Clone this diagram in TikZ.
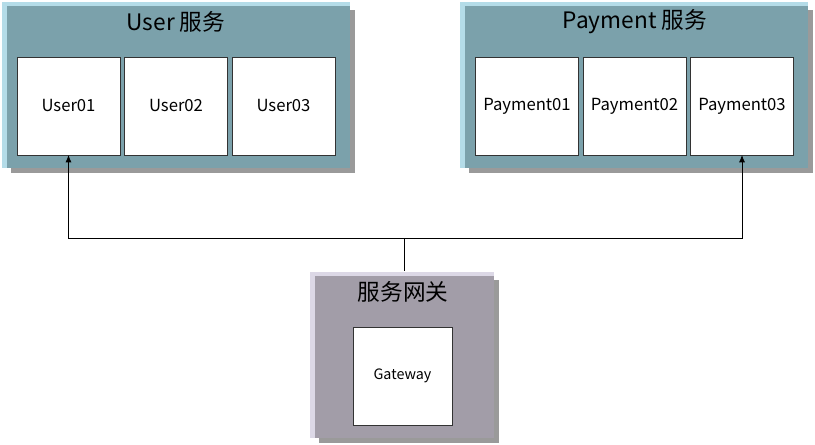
\documentclass[tikz,border=0pt]{standalone}
\usepackage{fontspec}
\setmainfont{Noto Sans CJK SC}
\usetikzlibrary{positioning,backgrounds,arrows.meta}
\definecolor{grpteal}{HTML}{7BA1AB}
\definecolor{grplight}{HTML}{B4DCE8}
\definecolor{grpmauve}{HTML}{A29DA8}
\definecolor{grplav}{HTML}{DCD8E6}
\definecolor{grpshade}{HTML}{9A9A9A}
\tikzstyle{grpbox} = [rectangle, inner sep=0pt, outer sep=0pt,
    minimum width=257.25pt, minimum height=121.5pt]
\tikzstyle{svcbox} = [draw=black!80, fill=white, line width=0.6pt,
    rectangle, inner sep=0pt, outer sep=0pt,
    minimum width=77.25pt, minimum height=73.5pt, font=\fontsize{12.5}{14}\selectfont]
\tikzstyle{grptitle} = [font=\fontsize{17}{19}\selectfont, inner sep=0pt]
\tikzstyle{conn} = [draw=black, line width=0.6pt, -{Latex[length=5.5pt,width=4.5pt]}]

\begin{document}
\begin{tikzpicture}[x=0.75pt, y=-0.75pt]
                \useasboundingbox (0,0) rectangle (815,445);
                \node[grpbox, fill=grpteal] (usergrp) at (178.5,87) {};
                \node[grpbox, fill=grpteal] (paygrp) at (636.5,87) {};
                \node[grpbox, fill=grpmauve, minimum width=134.25pt] (gwgrp) at (404.5,357) {};
                \begin{scope}[on background layer]
                    \foreach \grp/\col in {usergrp/grplight, paygrp/grplight, gwgrp/grplav}{
                        \fill[\col] ([xshift=-3.75pt, yshift=3pt]\grp.north west) rectangle (\grp.south east);
                        \fill[grpshade] ([xshift=3pt, yshift=-3pt]\grp.north west) rectangle ([xshift=3.75pt, yshift=-3.75pt]\grp.south east);
                    }
                \end{scope}
                \node[grptitle] (usertitle) at (176,22) {User 服务};
                \node[grptitle] (paytitle) at (635,22) {Payment 服务};
                \node[grptitle] (gwtitle) at (403,292) {服务网关};
                \node[svcbox] (user01) at (68.5,106) {User01};
                \node[svcbox, right=3.375pt of user01] (user02) {User02};
                \node[svcbox, right=3.375pt of user02] (user03) {User03};
                \node[svcbox] (pay01) at (527,106) {Payment01};
                \node[svcbox, right=3.375pt of pay01] (pay02) {Payment02};
                \node[svcbox, right=3.375pt of pay02] (pay03) {Payment03};
                \node[svcbox, minimum width=74.25pt, font=\fontsize{10.75}{12}\selectfont] (gateway) at (402.5,376) {Gateway};
                \coordinate (junc) at (404.5,238);
                \draw[conn] ([yshift=3.75pt]gwgrp.north) -- (junc) -| (user01.south);
                \draw[conn] (junc) -| (pay03.south);
            \end{tikzpicture}
\end{document}
